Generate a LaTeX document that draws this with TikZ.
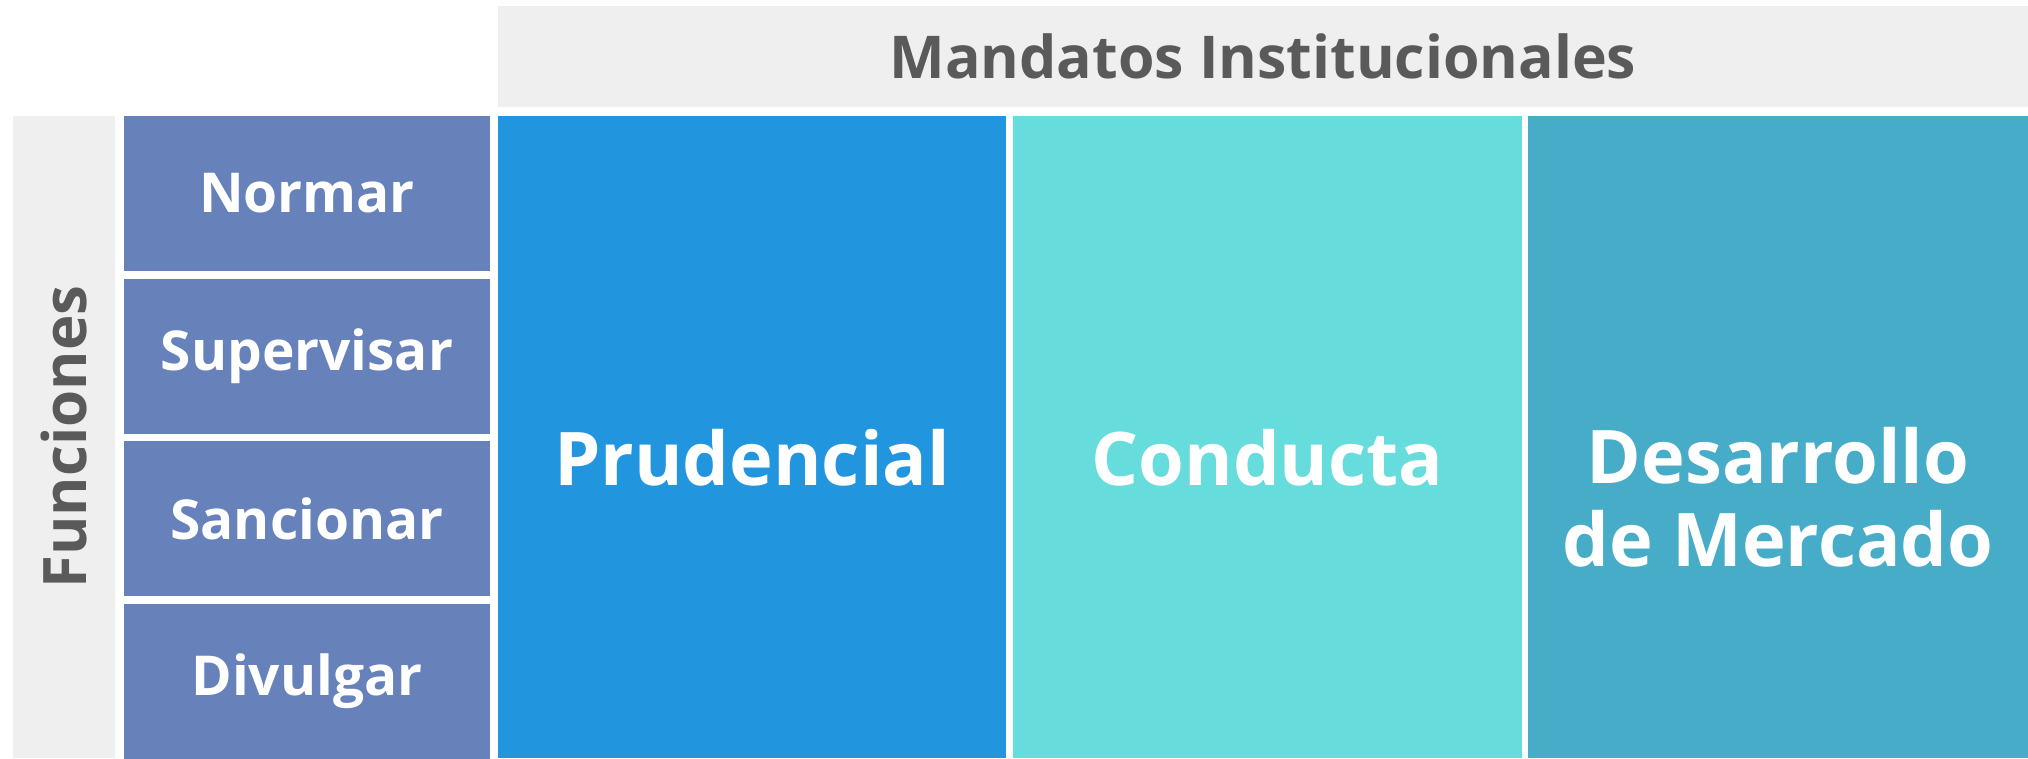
\documentclass[tikz,border=0pt]{standalone}
\usepackage{fontspec}
\setmainfont{Open Sans}
\setsansfont{Open Sans}
\usetikzlibrary{positioning}
\definecolor{cabecera}{HTML}{EFEFEF}
\definecolor{gristexto}{HTML}{5A5A5A}
\definecolor{funcazul}{HTML}{6781BB}
\definecolor{prudazul}{HTML}{2196DF}
\definecolor{conducian}{HTML}{66DCDC}
\definecolor{desarazul}{HTML}{46ACC8}
\tikzset{
  basic/.style   = {rectangle, inner sep=0pt, outer sep=0pt, font=\sffamily\bfseries},
  cabeza/.style  = {basic, fill=cabecera, text=gristexto},
  funcion/.style = {basic, fill=funcazul, text=white, minimum width=366pt,
                    minimum height=155pt, font=\sffamily\bfseries\fontsize{55}{60}\selectfont},
  mandato/.style = {basic, minimum height=642pt},
  titulo/.style  = {basic, text=white, align=center,
                    font=\sffamily\bfseries\fontsize{74}{83}\selectfont}
}

\begin{document}
\begin{tikzpicture}[x=1pt, y=-1pt]
\useasboundingbox (0,0) rectangle (2028,758);

% header and side bar
\node[cabeza, minimum width=1530pt, minimum height=101pt,
      font=\sffamily\bfseries\fontsize{59}{64}\selectfont]
  (mandatos) at (1263,56.5) {Mandatos Institucionales};
\node[cabeza, minimum width=642pt, minimum height=102pt, rotate=90,
      font=\sffamily\bfseries\fontsize{60}{64}\selectfont]
  (funciones) at (64,437) {Funciones};

% the functions, one below the other
\node[funcion, anchor=north west] (f1) at (124,116) {Normar};
\node[funcion, below=7.7pt of f1] (f2) {Supervisar};
\node[funcion, below=7.7pt of f2] (f3) {Sancionar};
\node[funcion, below=7.7pt of f3] (f4) {Divulgar};

% the mandates, side by side
\node[mandato, fill=prudazul, minimum width=508pt, anchor=north west] (m1) at (498,116) {};
\node[mandato, fill=conducian, minimum width=509pt, right=7pt of m1] (m2) {};
\node[mandato, fill=desarazul, minimum width=500pt, right=6pt of m2] (m3) {};

\node[titulo] (t1) at ([yshift=-21pt]m1.center) {Prudencial};
\node[titulo] (t2) at ([yshift=-21pt]m2.center) {Conducta};
\node[titulo] (t3) at ([yshift=-60pt]m3.center) {Desarrollo\\de Mercado};
\end{tikzpicture}
\end{document}
